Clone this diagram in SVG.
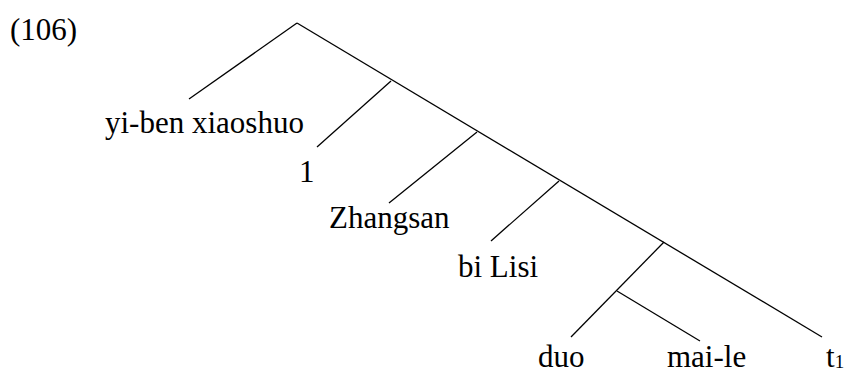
<svg xmlns="http://www.w3.org/2000/svg" width="846" height="374" viewBox="0 0 846 374">
<style>
text{font-family:"Liberation Serif","Times New Roman",serif;font-size:31px;fill:#000}
.e{stroke:#000;stroke-width:1.3;fill:none}
</style>
<rect width="846" height="374" fill="#fff"/>
<text x="10" y="40">(106)</text>
<g id="edges">
<line class="e" x1="297" y1="23" x2="189" y2="99"/>
<line class="e" x1="297" y1="23" x2="822" y2="337"/>
<line class="e" x1="391" y1="81" x2="317" y2="147"/>
<line class="e" x1="477" y1="132" x2="389" y2="203"/>
<line class="e" x1="559" y1="181" x2="491" y2="241"/>
<line class="e" x1="664" y1="242" x2="571" y2="337"/>
<line class="e" x1="617" y1="291" x2="700" y2="341"/>
</g>
<g id="n-yiben"><text x="105" y="133">yi-ben xiaoshuo</text></g>
<g id="n-1"><text x="299" y="182">1</text></g>
<g id="n-zhangsan"><text x="329" y="228">Zhangsan</text></g>
<g id="n-bilisi"><text x="458" y="277">bi Lisi</text></g>
<g id="n-duo"><text x="538" y="367">duo</text></g>
<g id="n-maile"><text x="667" y="367">mai-le</text></g>
<g id="n-t1"><text x="826" y="367">t<tspan font-size="19" dy="1">1</tspan></text></g>
</svg>
